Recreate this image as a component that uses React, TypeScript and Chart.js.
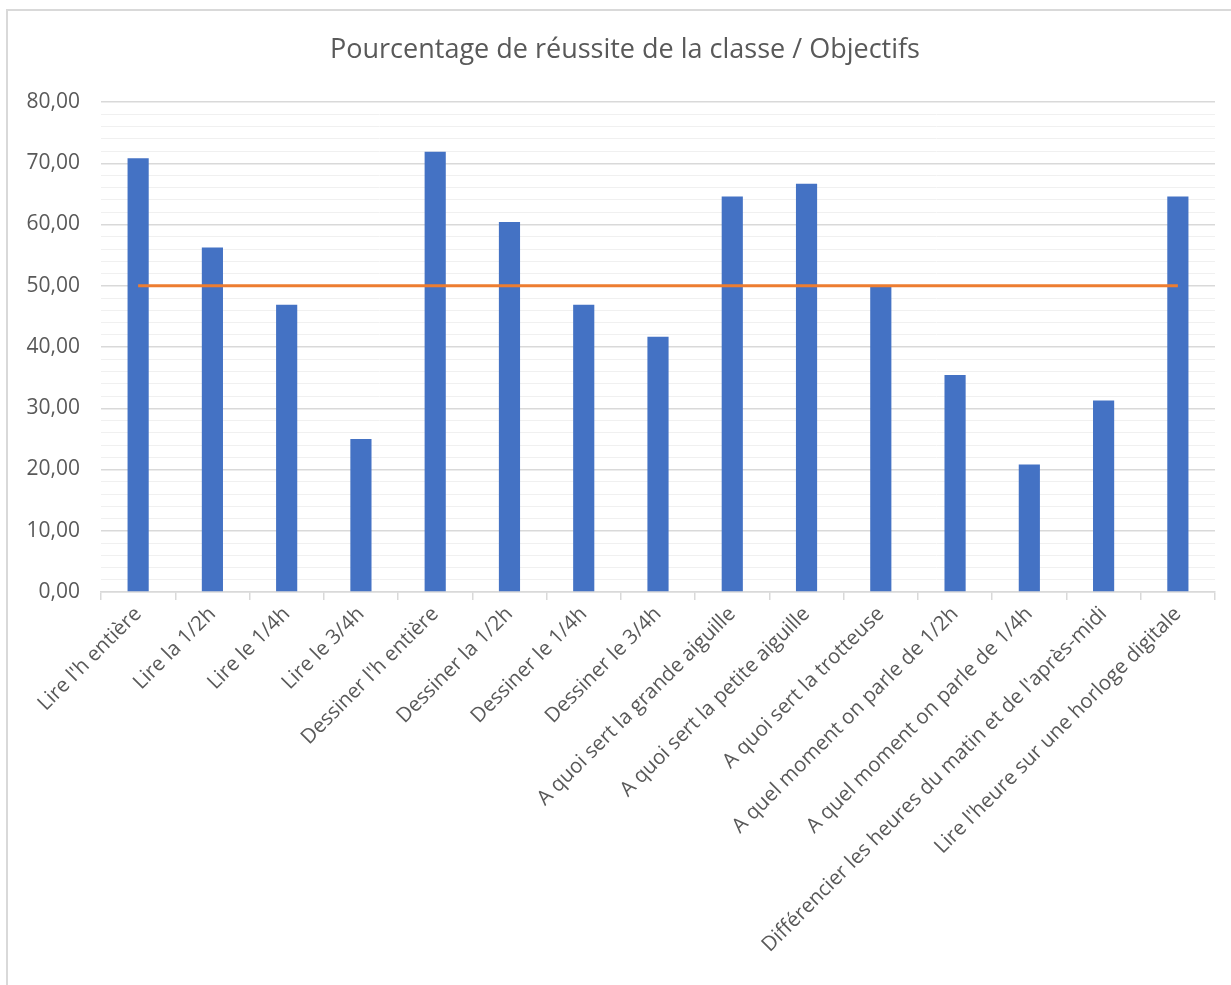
import React, { useEffect, useRef } from "react";
import { Chart, registerables } from "chart.js";

Chart.register(...registerables);

const categories: string[] = [
  "Lire l'h entière",
  "Lire la 1/2h",
  "Lire le 1/4h",
  "Lire le 3/4h",
  "Dessiner l'h entière",
  "Dessiner la 1/2h",
  "Dessiner le 1/4h",
  "Dessiner le 3/4h",
  "A quoi sert la grande aiguille",
  "A quoi sert la petite aiguille",
  "A quoi sert la trotteuse",
  "A quel moment on parle de 1/2h",
  "A quel moment on parle de 1/4h",
  "Différencier les heures du matin et de l'après-midi",
  "Lire l'heure sur une horloge digitale",
];

const reussite: number[] = [
  70.83, 56.25, 46.88, 25.0, 71.88, 60.42, 46.88, 41.67, 64.58, 66.67, 50.0,
  35.42, 20.83, 31.25, 64.58,
];

const objectif: number[] = [
  50, 50, 50, 50, 50, 50, 50, 50, 50, 50, 50, 50, 50, 50, 50,
];

const titleText = "Pourcentage de réussite de la classe / Objectifs";
const yMin = 0;
const yMax = 80;

const FONT = "'Open Sans', sans-serif";
const TEXT = "#595959";

const frame = {
  id: "frame",
  afterDraw(chart: any) {
    const c = chart.ctx;
    c.save();
    c.strokeStyle = "#d9d9d9";
    c.lineWidth = 2;
    c.beginPath();
    c.moveTo(7, chart.height + 5);
    c.lineTo(7, 10);
    c.lineTo(chart.width + 5, 10);
    c.stroke();
    c.fillStyle = TEXT;
    c.font = `27px ${FONT}`;
    c.textAlign = "center";
    c.textBaseline = "middle";
    c.fillText(titleText, 625, 50);
    c.restore();
  },
};

export default function App() {
  const ref = useRef<HTMLCanvasElement | null>(null);
  useEffect(() => {
    document.body.style.margin = "0";
    if (!ref.current) return;
    const chart = new Chart(ref.current, {
      type: "bar",
      data: {
        labels: categories,
        datasets: [
          {
            type: "line",
            label: "Objectif",
            data: objectif,
            borderColor: "#ED7D31",
            backgroundColor: "#ED7D31",
            borderWidth: 3,
            pointRadius: 0,
            order: 0,
          } as any,
          {
            type: "bar",
            label: "Réussite",
            data: reussite,
            backgroundColor: "#4472C4",
            borderWidth: 0,
            barPercentage: 0.285,
            categoryPercentage: 1,
            order: 1,
          },
        ],
      },
      options: {
        animation: false,
        responsive: true,
        maintainAspectRatio: false,
        layout: { padding: { left: 0, right: 16, top: 102, bottom: 0 } },
        plugins: {
          legend: { display: false },
          tooltip: { enabled: false },
          title: { display: false },
        },
        scales: {
          x: {
            grid: {
              display: true,
              drawOnChartArea: false,
              offset: true,
              tickLength: 8,
              color: "#d9d9d9",
              lineWidth: 1.5,
            },
            border: { display: true, color: "#d9d9d9", width: 1.5 },
            ticks: {
              color: TEXT,
              font: { family: FONT, size: 20.5 },
              minRotation: 45,
              maxRotation: 45,
              autoSkip: false,
              padding: 2,
            },
            afterFit(scale: any) {
              scale.height = 393;
            },
          },
          y: {
            min: yMin,
            max: yMax,
            grid: {
              drawTicks: false,
              color: (ctx: any) =>
                ctx.tick && ctx.tick.value % 10 === 0 ? "#d9d9d9" : "#f0f0f0",
              lineWidth: (ctx: any) =>
                ctx.tick && ctx.tick.value % 10 === 0 ? 1.5 : 1,
            },
            border: { display: false },
            ticks: {
              stepSize: 2,
              autoSkip: false,
              color: TEXT,
              font: { family: FONT, size: 21 },
              padding: 21,
              callback: (v: any) =>
                Number(v) % 10 === 0 ? Number(v).toFixed(2).replace(".", ",") : "",
            },
            afterFit(scale: any) {
              scale.width = 101;
            },
          },
        },
      },
      plugins: [frame],
    });
    return () => chart.destroy();
  }, []);
  return (
    <div style={{ width: 1231, height: 985, position: "relative" }}>
      <canvas ref={ref} />
    </div>
  );
}
